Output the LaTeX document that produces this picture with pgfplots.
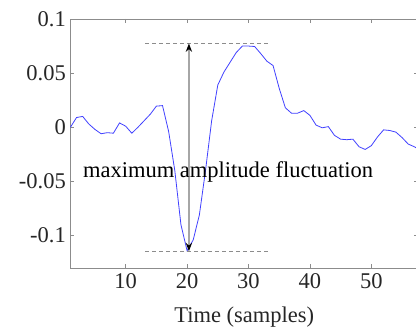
\documentclass[border=0pt]{standalone}
\usepackage{fontspec}
\setmainfont{Liberation Serif}
\usepackage{pgfplots}
\pgfplotsset{compat=1.18}
\usetikzlibrary{arrows.meta}
\definecolor{curve}{rgb}{0.25,0.25,1}
\definecolor{axgray}{rgb}{0.55,0.55,0.55}
\definecolor{labgray}{rgb}{0.15,0.15,0.15}
\begin{document}
\begin{tikzpicture}
\begin{axis}[
  scale only axis,
  width=347.6pt, height=249pt,
  xmin=1, xmax=57.6, ymin=-0.13, ymax=0.1,
  xtick={10,20,30,40,50},
  xticklabels={\mbox{10},\mbox{20},\mbox{30},\mbox{40},\mbox{50}},
  ytick={-0.1,-0.05,0,0.05,0.1},
  yticklabels={\mbox{-0.1},\mbox{-0.05},\mbox{0},\mbox{0.05},\mbox{0.1}},
  tick align=inside,
  major tick length=4pt,
  axis line style={axgray, line width=0.8pt},
  every tick/.style={axgray, line width=0.6pt},
  tick label style={font=\fontsize{22.5}{27}\selectfont, text=labgray},
  label style={font=\fontsize{22.5}{27}\selectfont, text=labgray},
  xlabel={Time (samples)},
  xlabel style={at={(axis description cs:0.5,0)}, anchor=base, yshift=-55pt},
  xticklabel style={yshift=-2pt},
  yticklabel style={xshift=-1pt},
  clip=false,
]
\addplot[curve, line width=0.8pt] coordinates {
(1,0.000) (2,0.009) (3,0.010) (4,0.003) (5,-0.002) (6,-0.006) (7,-0.005) (8,-0.0055)
(9,0.004) (10,0.001) (11,-0.0055) (12,0.000) (13,0.006) (14,0.012) (15,0.0195) (16,0.020)
(17,-0.004) (18,-0.040) (19,-0.090) (20,-0.114) (21,-0.104) (22,-0.081) (23,-0.040) (24,0.006)
(25,0.039) (26,0.051) (27,0.060) (28,0.069) (29,0.075) (30,0.075) (31,0.0746) (32,0.068)
(33,0.061) (34,0.057) (35,0.036) (36,0.018) (37,0.013) (38,0.013) (39,0.0154) (40,0.011)
(41,0.002) (42,-0.0005) (43,0.0006) (44,-0.0075) (45,-0.011) (46,-0.0115) (47,-0.011) (48,-0.018)
(49,-0.0205) (50,-0.017) (51,-0.009) (52,-0.0024) (53,-0.003) (54,-0.0045) (55,-0.0095) (56,-0.0155)
(57,-0.018) (57.6,-0.020)
};
\addplot[axgray, line width=0.8pt, dash pattern=on 4pt off 3pt] coordinates {(13.15,0.0774) (33.35,0.0774)};
\addplot[axgray, line width=0.8pt, dash pattern=on 4pt off 3pt] coordinates {(13.15,-0.1145) (33.35,-0.1145)};
\addplot[gray!70, line width=1.2pt, {Stealth[black]}-{Stealth[black]}] coordinates {(20.3,-0.1145) (20.3,0.0774)};
\node[anchor=base, font=\fontsize{22.5}{27}\selectfont, text=black, inner sep=0pt] at (axis cs:26.67,-0.046) {maximum amplitude fluctuation};
\coordinate (sw) at (axis description cs:0,0);
\coordinate (ne) at (axis description cs:1,1);
\end{axis}
\pgfresetboundingbox
\path[use as bounding box] ([xshift=-70.4pt,yshift=-63pt]sw) rectangle ([xshift=-2pt,yshift=19pt]ne);
\end{tikzpicture}
\end{document}
